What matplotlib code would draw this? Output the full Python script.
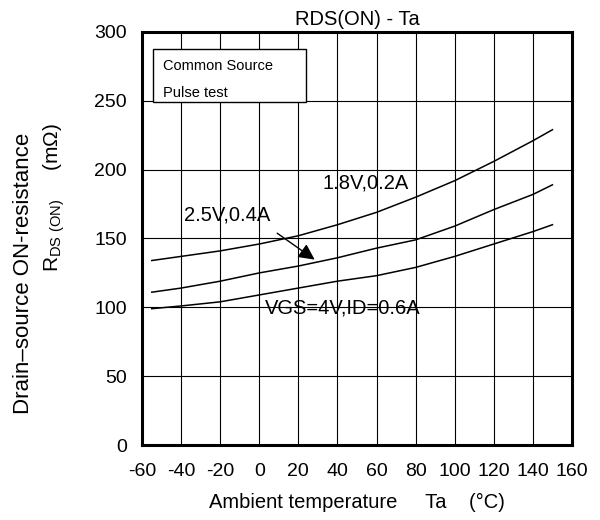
import numpy as np
import matplotlib.pyplot as plt
from matplotlib.patches import Rectangle

plt.rcParams['font.family'] = ['Liberation Sans', 'DejaVu Sans']
plt.rcParams['mathtext.fontset'] = 'custom'
plt.rcParams['mathtext.rm'] = 'Liberation Sans'
plt.rcParams['axes.unicode_minus'] = False

# curve data
ta = [-55, -40, -20, 0, 20, 40, 60, 80, 100, 120, 140, 150]
r_18v = [134, 137, 141, 146, 152, 160, 169, 180, 192, 206, 221, 229]
r_25v = [111, 114, 119, 125, 130, 136, 143, 149, 159, 171, 182, 189]
r_4v = [99, 101, 104, 109, 114, 119, 123, 129, 137, 146, 155, 160]

x_ticks = np.arange(-60, 161, 20)
y_ticks = np.arange(0, 301, 50)

fig = plt.figure(figsize=(6, 5.2), dpi=100)
ax = fig.add_axes([0.2367, 0.1442, 0.7166, 0.7943])

for r in (r_18v, r_25v, r_4v):
    ax.plot(ta, r, color='black', lw=1.1)

ax.set_xlim(-60, 160)
ax.set_ylim(0, 300)
ax.set_xticks(x_ticks)
ax.set_yticks(y_ticks)
ax.tick_params(axis='x', length=0, labelsize=14, pad=13)
ax.tick_params(axis='y', length=0, labelsize=14, pad=11)
ax.grid(True, color='black', lw=0.8)
for s in ax.spines.values():
    s.set_linewidth(2.2)

ax.text(32.5, 190, '1.8V,0.2A', fontsize=14.5, va='center', ha='left')
ax.text(-38.5, 167, '2.5V,0.4A', fontsize=14.5, va='center', ha='left')
ax.text(3, 99.5, 'VGS=4V,ID=0.6A', fontsize=14.5, va='center', ha='left')
ax.annotate('', xy=(29.5, 133.5), xytext=(8, 155),
            arrowprops=dict(arrowstyle='-|>', color='black', lw=1,
                            mutation_scale=24))

# note box
ax.add_patch(Rectangle((-54.4, 248.8), 78.3, 38.5, fc='white', ec='black',
                       lw=1, zorder=3))
ax.text(-49.4, 275, 'Common Source', fontsize=10.5, va='center', zorder=4)
ax.text(-49.4, 256, 'Pulse test', fontsize=10.5, va='center', zorder=4)

ax.set_title('RDS(ON) - Ta', fontsize=14.5, pad=5)
ax.set_xlabel('Ambient temperature     Ta    (°C)', fontsize=14.5, labelpad=9)

fig.text(0.040, 0.475, 'Drain\u2013source ON-resistance', rotation=90,
         fontsize=16, ha='center', va='center')
fig.text(0.09, 0.62, r'R$_{\rm DS\ (ON)}$     (m$\Omega$)', rotation=90,
         fontsize=15, ha='center', va='center')

fig.savefig('out.png', dpi=100)
